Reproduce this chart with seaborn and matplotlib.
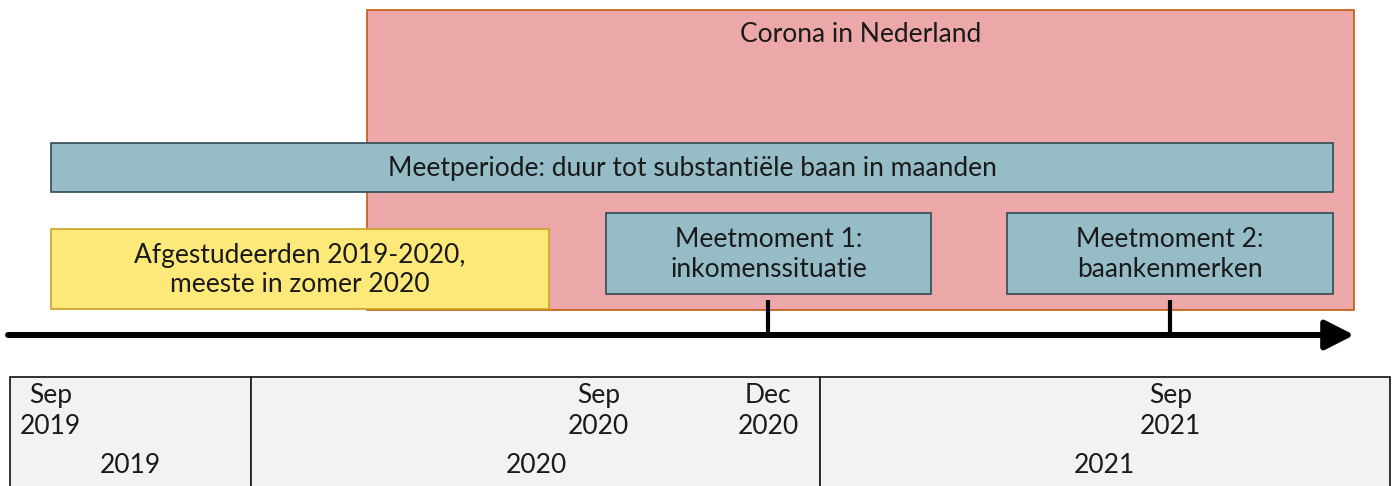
import matplotlib
matplotlib.use("Agg")
import matplotlib.pyplot as plt
import seaborn as sns

# months counted from Sep 2019 (schematic timeline)
box_labels = ["Corona in Nederland",
              "Meetperiode: duur tot substantiële baan in maanden",
              "Afgestudeerden 2019-2020,\nmeeste in zomer 2020",
              "Meetmoment 1:\ninkomenssituatie",
              "Meetmoment 2:\nbaankenmerken"]
box_start = [6.03, -1.04, -1.04, 11.38, 20.35]
box_end = [28.11, 27.64, 10.10, 18.65, 27.64]

meet_months = [15, 24]

date_labels = ["Sep\n2019", "Sep\n2020", "Dec\n2020", "Sep\n2021"]
date_pos = [-1.05, 11.2, 15.0, 24.0]

years = ["2019", "2020", "2021"]
year_start = [-1.96, 3.43, 16.16]
year_end = [3.43, 16.16, 28.91]
year_label_pos = [0.73, 9.81, 22.52]

# layout (vertical, figure pixels from top)
box_top = [10, 143, 229, 213, 213]
box_bottom = [310, 192, 309, 294, 294]
box_fill = ["#eca8a8", "#96bdc7", "#fce97a", "#96bdc7", "#96bdc7"]
box_edge = ["#c55a11", "#2f4a55", "#c9a227", "#2f4a55", "#2f4a55"]

sns.set_style("white")
plt.rcParams["font.family"] = ["Lato", "DejaVu Sans"]
fs = 19

fig = plt.figure(figsize=(13.94, 4.86), dpi=100)
ax = fig.add_axes([0, 0, 1, 1])
ax.set_xlim(-2.181, 29.0)
ax.set_ylim(486, 0)
ax.axis("off")

for i, lab in enumerate(box_labels):
    h = box_bottom[i] - box_top[i]
    ax.barh((box_top[i] + box_bottom[i]) / 2, box_end[i] - box_start[i],
            left=box_start[i], height=h, color=box_fill[i],
            edgecolor=box_edge[i], linewidth=1.2, zorder=2 + (i > 0))
    if i == 0:
        ax.text((box_start[i] + box_end[i]) / 2, 35, lab, ha="center",
                va="center", fontsize=fs, color="#1a1a1a", zorder=5)
    else:
        ax.text((box_start[i] + box_end[i]) / 2, (box_top[i] + box_bottom[i]) / 2 + 1,
                lab, ha="center", va="center", fontsize=fs, color="#1a1a1a",
                linespacing=1.22, zorder=5)

# timeline arrow and measurement ticks
ax.annotate("", xy=(28.11, 335), xytext=(-2.0, 335),
            arrowprops=dict(arrowstyle="-|>,head_length=0.55,head_width=0.28",
                            mutation_scale=32, lw=4.3, color="black",
                            shrinkA=0, shrinkB=0), zorder=6)
ax.vlines(meet_months, 300, 335, color="black", lw=3, zorder=6)

# year table
for i, y in enumerate(years):
    ax.barh(435, year_end[i] - year_start[i], left=year_start[i], height=116,
            color="#f2f2f2", edgecolor="#222222", linewidth=1.3, zorder=2)
    ax.text(year_label_pos[i], 465, y, ha="center", va="center",
            fontsize=fs, color="#1a1a1a", zorder=5)

for lab, x in zip(date_labels, date_pos):
    ax.text(x, 411, lab, ha="center", va="center", fontsize=fs,
            color="#1a1a1a", linespacing=1.3, zorder=5)

fig.savefig("out.png", dpi=100)
